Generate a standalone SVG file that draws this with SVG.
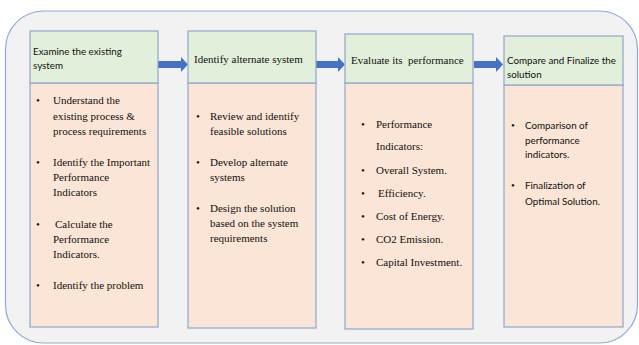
<svg xmlns="http://www.w3.org/2000/svg" width="639" height="345" viewBox="0 0 639 345">
<style>
.hd{fill:#e2efda;stroke:#8fa6cf;stroke-width:1.2}
.bd{fill:#fbe5d6;stroke:#8fa6cf;stroke-width:1.2}
.ser{font-family:"Liberation Serif","Times New Roman",serif;font-size:11px;fill:#111}
.san{font-family:Lato,"Liberation Sans",sans-serif;font-size:9.8px;fill:#111}
.bul{font-family:"Liberation Serif","Times New Roman",serif;font-size:11px;fill:#111}
.arr{fill:#4472c4}
</style>
<rect x="5.5" y="11" width="632" height="332" rx="38" ry="38" fill="#f2f2f2" stroke="#8eaadb" stroke-width="1.2"/>
<g id="connectors">
<polygon class="arr" points="158,61 181,61 181,57 188,64.5 181,72 181,68 158,68"/>
<polygon class="arr" points="316,61 338,61 338,57 345,64.5 338,72 338,68 316,68"/>
<polygon class="arr" points="474,61 496,61 496,57 503,64.5 496,72 496,68 474,68"/>
</g>
<g id="node1">
<rect class="bd" x="30" y="83" width="128" height="244"/>
<rect class="hd" x="30" y="31" width="128" height="52"/>
<text class="san" x="33" y="55">Examine the existing</text>
<text class="san" x="33" y="69">system</text>
<g class="ser">
<text x="36" y="104">•</text>
<text x="53" y="104">Understand the</text>
<text x="53" y="120">existing process &amp;</text>
<text x="53" y="135">process requirements</text>
<text x="36" y="166">•</text>
<text x="53" y="166">Identify the Important</text>
<text x="53" y="181">Performance</text>
<text x="53" y="196">Indicators</text>
<text x="36" y="228">•</text>
<text x="55" y="228">Calculate the</text>
<text x="53" y="243">Performance</text>
<text x="53" y="258">Indicators.</text>
<text x="36" y="289">•</text>
<text x="53" y="289">Identify the problem</text>
</g>
</g>
<g id="node2">
<rect class="bd" x="188" y="83" width="128" height="245"/>
<rect class="hd" x="188" y="31" width="128" height="52"/>
<text class="ser" x="194" y="63">Identify alternate system</text>
<g class="ser">
<text x="196" y="120">•</text>
<text x="210" y="120">Review and identify</text>
<text x="210" y="135">feasible solutions</text>
<text x="196" y="166">•</text>
<text x="210" y="166">Develop alternate</text>
<text x="210" y="181">systems</text>
<text x="196" y="212">•</text>
<text x="210" y="212">Design the solution</text>
<text x="210" y="227">based on the system</text>
<text x="210" y="242">requirements</text>
</g>
</g>
<g id="node3">
<rect class="bd" x="345" y="83" width="128" height="246"/>
<rect class="hd" x="345" y="34" width="128" height="49"/>
<text class="ser" x="351" y="64" xml:space="preserve">Evaluate its  performance</text>
<g class="ser">
<text x="361" y="128">•</text>
<text x="376" y="128">Performance</text>
<text x="376" y="150">Indicators:</text>
<text x="361" y="174">•</text>
<text x="376" y="174">Overall System.</text>
<text x="361" y="197">•</text>
<text x="378" y="197">Efficiency.</text>
<text x="361" y="220">•</text>
<text x="376" y="220">Cost of Energy.</text>
<text x="361" y="243">•</text>
<text x="376" y="243">CO2 Emission.</text>
<text x="361" y="266">•</text>
<text x="376" y="266">Capital Investment.</text>
</g>
</g>
<g id="node4">
<rect class="bd" x="504" y="85" width="119" height="242"/>
<rect class="hd" x="504" y="36" width="119" height="49"/>
<text class="san" x="507" y="64">Compare and Finalize the</text>
<text class="san" x="507" y="78">solution</text>
<text class="bul" x="511" y="129">•</text>
<text class="bul" x="511" y="189">•</text>
<g class="san">
<text x="525" y="129">Comparison of</text>
<text x="525" y="144">performance</text>
<text x="525" y="158">indicators.</text>
<text x="525" y="189">Finalization of</text>
<text x="525" y="205">Optimal Solution.</text>
</g>
</g>
</svg>
